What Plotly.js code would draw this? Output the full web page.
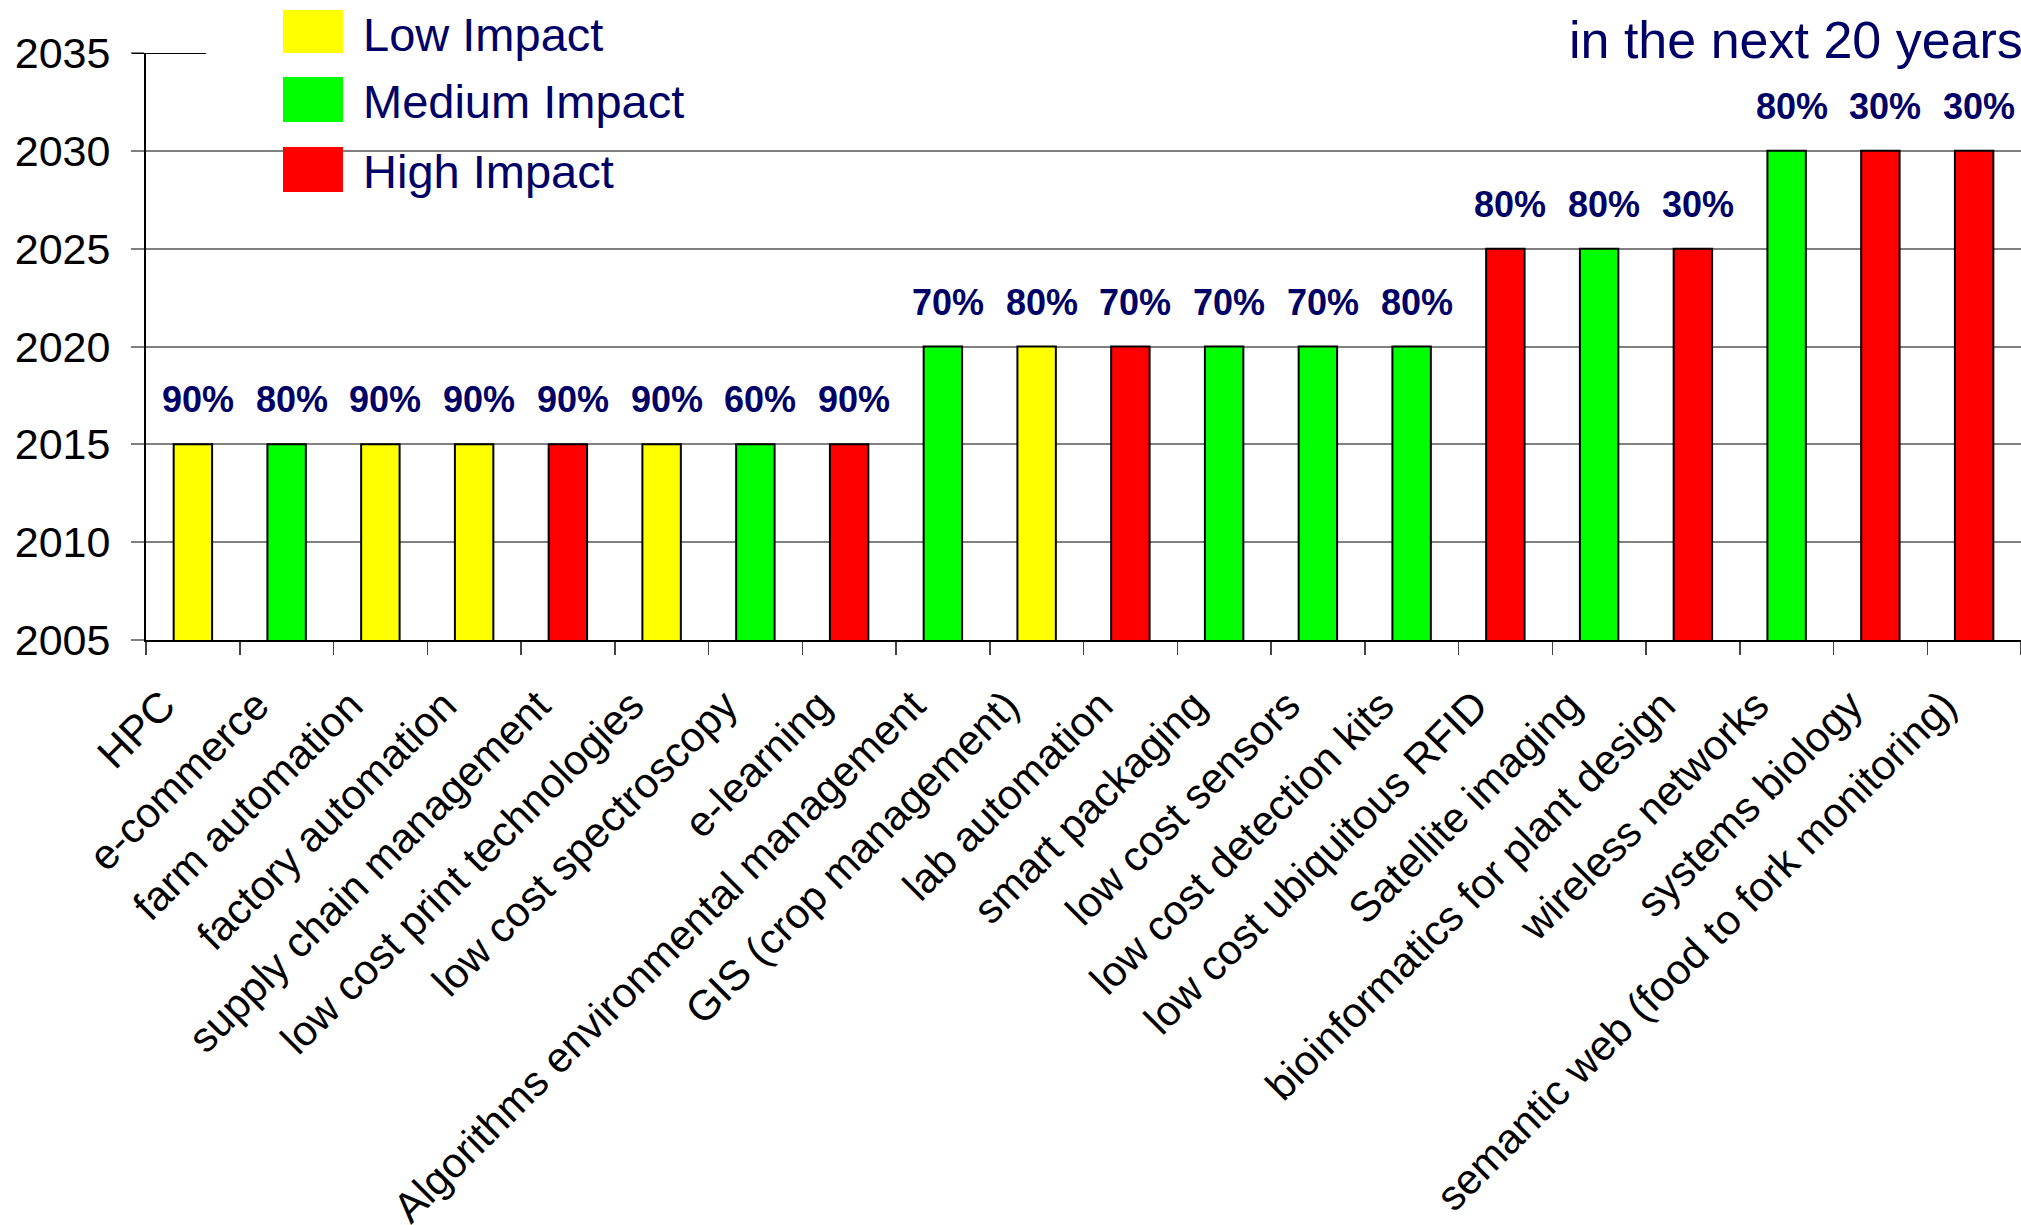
<!DOCTYPE html>
<html>
<head>
<meta charset="utf-8">
<script src="https://cdn.plot.ly/plotly-3.0.1.min.js"></script>
<style>
html,body{margin:0;padding:0;overflow:hidden;background:#fff;}
#chart{width:2021px;height:1225px;}
</style>
</head>
<body>
<div id="chart"></div>
<script>
// ---- data ----
const categories = [
  "HPC", "e-commerce", "farm automation", "factory automation",
  "supply chain management", "low cost print technologies", "low cost spectroscopy",
  "e-learning", "Algorithms environmental management", "GIS (crop management)",
  "lab automation", "smart packaging", "low cost sensors", "low cost detection kits",
  "low cost ubiquitous RFID", "Satellite imaging", "bioinformatics for plant design",
  "wireless networks", "systems biology", "semantic web (food to fork monitoring)"
];
const years = [2015, 2015, 2015, 2015, 2015, 2015, 2015, 2015,
               2020, 2020, 2020, 2020, 2020, 2020,
               2025, 2025, 2025,
               2030, 2030, 2030];
const impact = ["Low", "Medium", "Low", "Low", "High", "Low", "Medium", "High",
                "Medium", "Low", "High", "Medium", "Medium", "Medium",
                "High", "Medium", "High",
                "Medium", "High", "High"];
const probability = ["90%", "80%", "90%", "90%", "90%", "90%", "60%", "90%",
                     "70%", "80%", "70%", "70%", "70%", "80%",
                     "80%", "80%", "30%",
                     "80%", "30%", "30%"];
const impactLevels = ["Low Impact", "Medium Impact", "High Impact"];
const yTicks = [2005, 2010, 2015, 2020, 2025, 2030, 2035];
const titleText = "in the next 20 years";

// ---- styles ----
const colorMap = {Low: "#ffff00", Medium: "#00ff00", High: "#ff0000"};
const legendColors = ["#ffff00", "#00ff00", "#ff0000"];
const navy = "#000066";
const FONT = "Liberation Sans, Arial, Helvetica, sans-serif";

const W = 2021, H = 1225;
const mL = 146, mR = 0, mT = 53, mB = 585;
const plotW = W - mL - mR, plotH = H - mT - mB;
const px2x = p => (p - mL) / plotW;
const px2y = p => (H - mB - p) / plotH;

const trace = {
  type: "bar",
  x: categories,
  y: years,
  marker: {
    color: impact.map(k => colorMap[k]),
    line: {color: "#000000", width: 2}
  },
  hoverinfo: "x+y",
  showlegend: false
};

const annotations = categories.map((c, i) => ({
  x: c, y: years[i], xref: "x", yref: "y",
  text: "<b>" + probability[i] + "</b>",
  showarrow: false, xanchor: "center", yanchor: "bottom",
  xshift: 5, yshift: 22,
  font: {family: FONT, size: 36, color: navy}
}));

// manual legend
const legendBoxes = [[10, 55], [77, 122], [147, 192]];
const shapes = [];
impactLevels.forEach((name, i) => {
  const [t, b] = legendBoxes[i];
  shapes.push({
    type: "rect", xref: "paper", yref: "paper",
    x0: px2x(283), x1: px2x(343), y0: px2y(b), y1: px2y(t),
    fillcolor: legendColors[i], line: {width: 0}
  });
  annotations.push({
    xref: "paper", yref: "paper",
    x: px2x(361), y: px2y((t + b) / 2 + 2),
    text: name, showarrow: false, xanchor: "left", yanchor: "middle",
    font: {family: FONT, size: 47, color: navy}
  });
});

// top line at 2035: short black stub, rest hidden
shapes.push({type: "line", xref: "paper", yref: "y", x0: px2x(206), x1: 1, y0: 2035, y1: 2035,
             line: {color: "#ffffff", width: 5}, layer: "above"});
shapes.push({type: "line", xref: "paper", yref: "y", x0: px2x(132), x1: px2x(206), y0: 2035, y1: 2035,
             line: {color: "#000000", width: 2}, layer: "above"});

const layout = {
  width: W, height: H,
  margin: {l: mL, r: mR, t: mT, b: mB, pad: 0},
  paper_bgcolor: "#ffffff", plot_bgcolor: "#ffffff",
  bargap: 0.59,
  title: {
    text: titleText, xref: "container", yref: "container",
    x: 1569 / W, xanchor: "left", y: 1 - 40 / H, yanchor: "middle",
    font: {family: FONT, size: 52, color: navy}
  },
  xaxis: {
    type: "category",
    categoryorder: "array", categoryarray: categories,
    range: [-0.5, 19.5],
    tickangle: -45,
    ticks: "outside", tickson: "boundaries", ticklen: 13, tickwidth: 1.5, tickcolor: "#444444",
    ticklabelstandoff: 22, ticklabelshift: -30,
    showline: true, linecolor: "#000000", linewidth: 2,
    showgrid: false,
    tickfont: {family: FONT, size: 42, color: "#000000"},
    fixedrange: true
  },
  yaxis: {
    range: [2005, 2035],
    tickmode: "array", tickvals: yTicks, ticktext: yTicks.map(String),
    ticks: "outside", ticklen: 13, tickwidth: 2, tickcolor: "#808080",
    ticklabelstandoff: 12,
    showline: true, linecolor: "#000000", linewidth: 2,
    showgrid: true, gridcolor: "#808080", gridwidth: 2,
    zeroline: false,
    tickfont: {family: FONT, size: 43, color: "#000000"},
    fixedrange: true
  },
  shapes: shapes,
  annotations: annotations,
  showlegend: false
};

Plotly.newPlot("chart", [trace], layout, {displayModeBar: false, staticPlot: true});
</script>
</body>
</html>
